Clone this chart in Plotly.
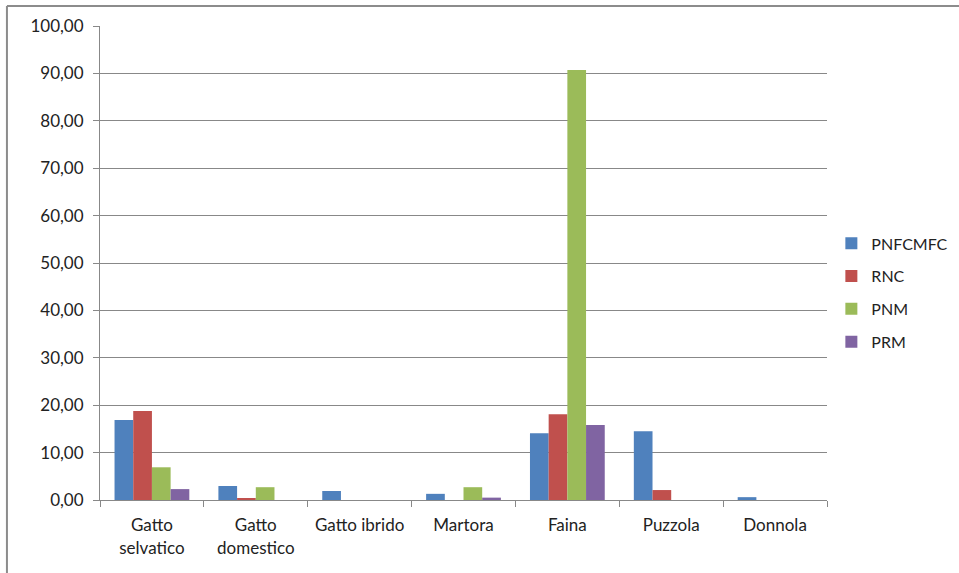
import plotly.graph_objects as go

categories = ["Gatto<br>selvatico", "Gatto<br>domestico", "Gatto ibrido", "Martora", "Faina", "Puzzola", "Donnola"]
series_names = ["PNFCMFC", "RNC", "PNM", "PRM"]
pnfcmfc = [16.9, 2.95, 1.9, 1.3, 14.1, 14.5, 0.6]
rnc = [18.8, 0.3, 0, 0, 18.1, 2.1, 0]
pnm = [6.9, 2.7, 0, 2.7, 90.7, 0, 0]
prm = [2.3, 0, 0, 0.5, 15.8, 0, 0]
colors = ["#4F81BD", "#C0504D", "#9BBB59", "#8064A2"]
values = [pnfcmfc, rnc, pnm, prm]

fig = go.Figure()
for name, vals, col in zip(series_names, values, colors):
    fig.add_trace(go.Bar(x=categories, y=vals, name=name, marker_color=col,
                         marker_line_width=0, legendgroup=name))

font = "Lato, 'Open Sans', sans-serif"
fig.update_layout(
    width=959, height=573,
    margin=dict(l=100, r=132, t=26, b=73, autoexpand=False),
    plot_bgcolor="white", paper_bgcolor="white",
    barmode="group", bargap=0.28, bargroupgap=0,
    separators=", ",
    font=dict(family=font, size=17, color="#222"),
    showlegend=True,
    legend=dict(x=1.006, y=0.437, xanchor="left", yanchor="middle",
                font=dict(size=16), tracegroupgap=9, itemwidth=30),
    xaxis=dict(type="category", tickson="boundaries", ticks="outside", ticklen=6,
               tickcolor="#888", showline=True, linecolor="#888", linewidth=1,
               showgrid=False, tickfont=dict(size=17), ticklabelstandoff=10),
    yaxis=dict(range=[0, 100], dtick=10, tickformat=".2f", ticks="outside", ticklen=6,
               tickcolor="#888", showline=True, linecolor="#888", linewidth=1,
               showgrid=True, gridcolor="#888", gridwidth=1, zeroline=False,
               tickfont=dict(size=17), ticklabelstandoff=6),
    shapes=[
        dict(type="line", xref="paper", yref="paper", x0=-0.128, y0=1.042, x1=1.3, y1=1.042,
             line=dict(color="#8c8c8c", width=2)),
        dict(type="line", xref="paper", yref="paper", x0=-0.128, y0=1.042, x1=-0.128, y1=-0.3,
             line=dict(color="#8c8c8c", width=2)),
    ],
)
fig.write_html("out.html")
